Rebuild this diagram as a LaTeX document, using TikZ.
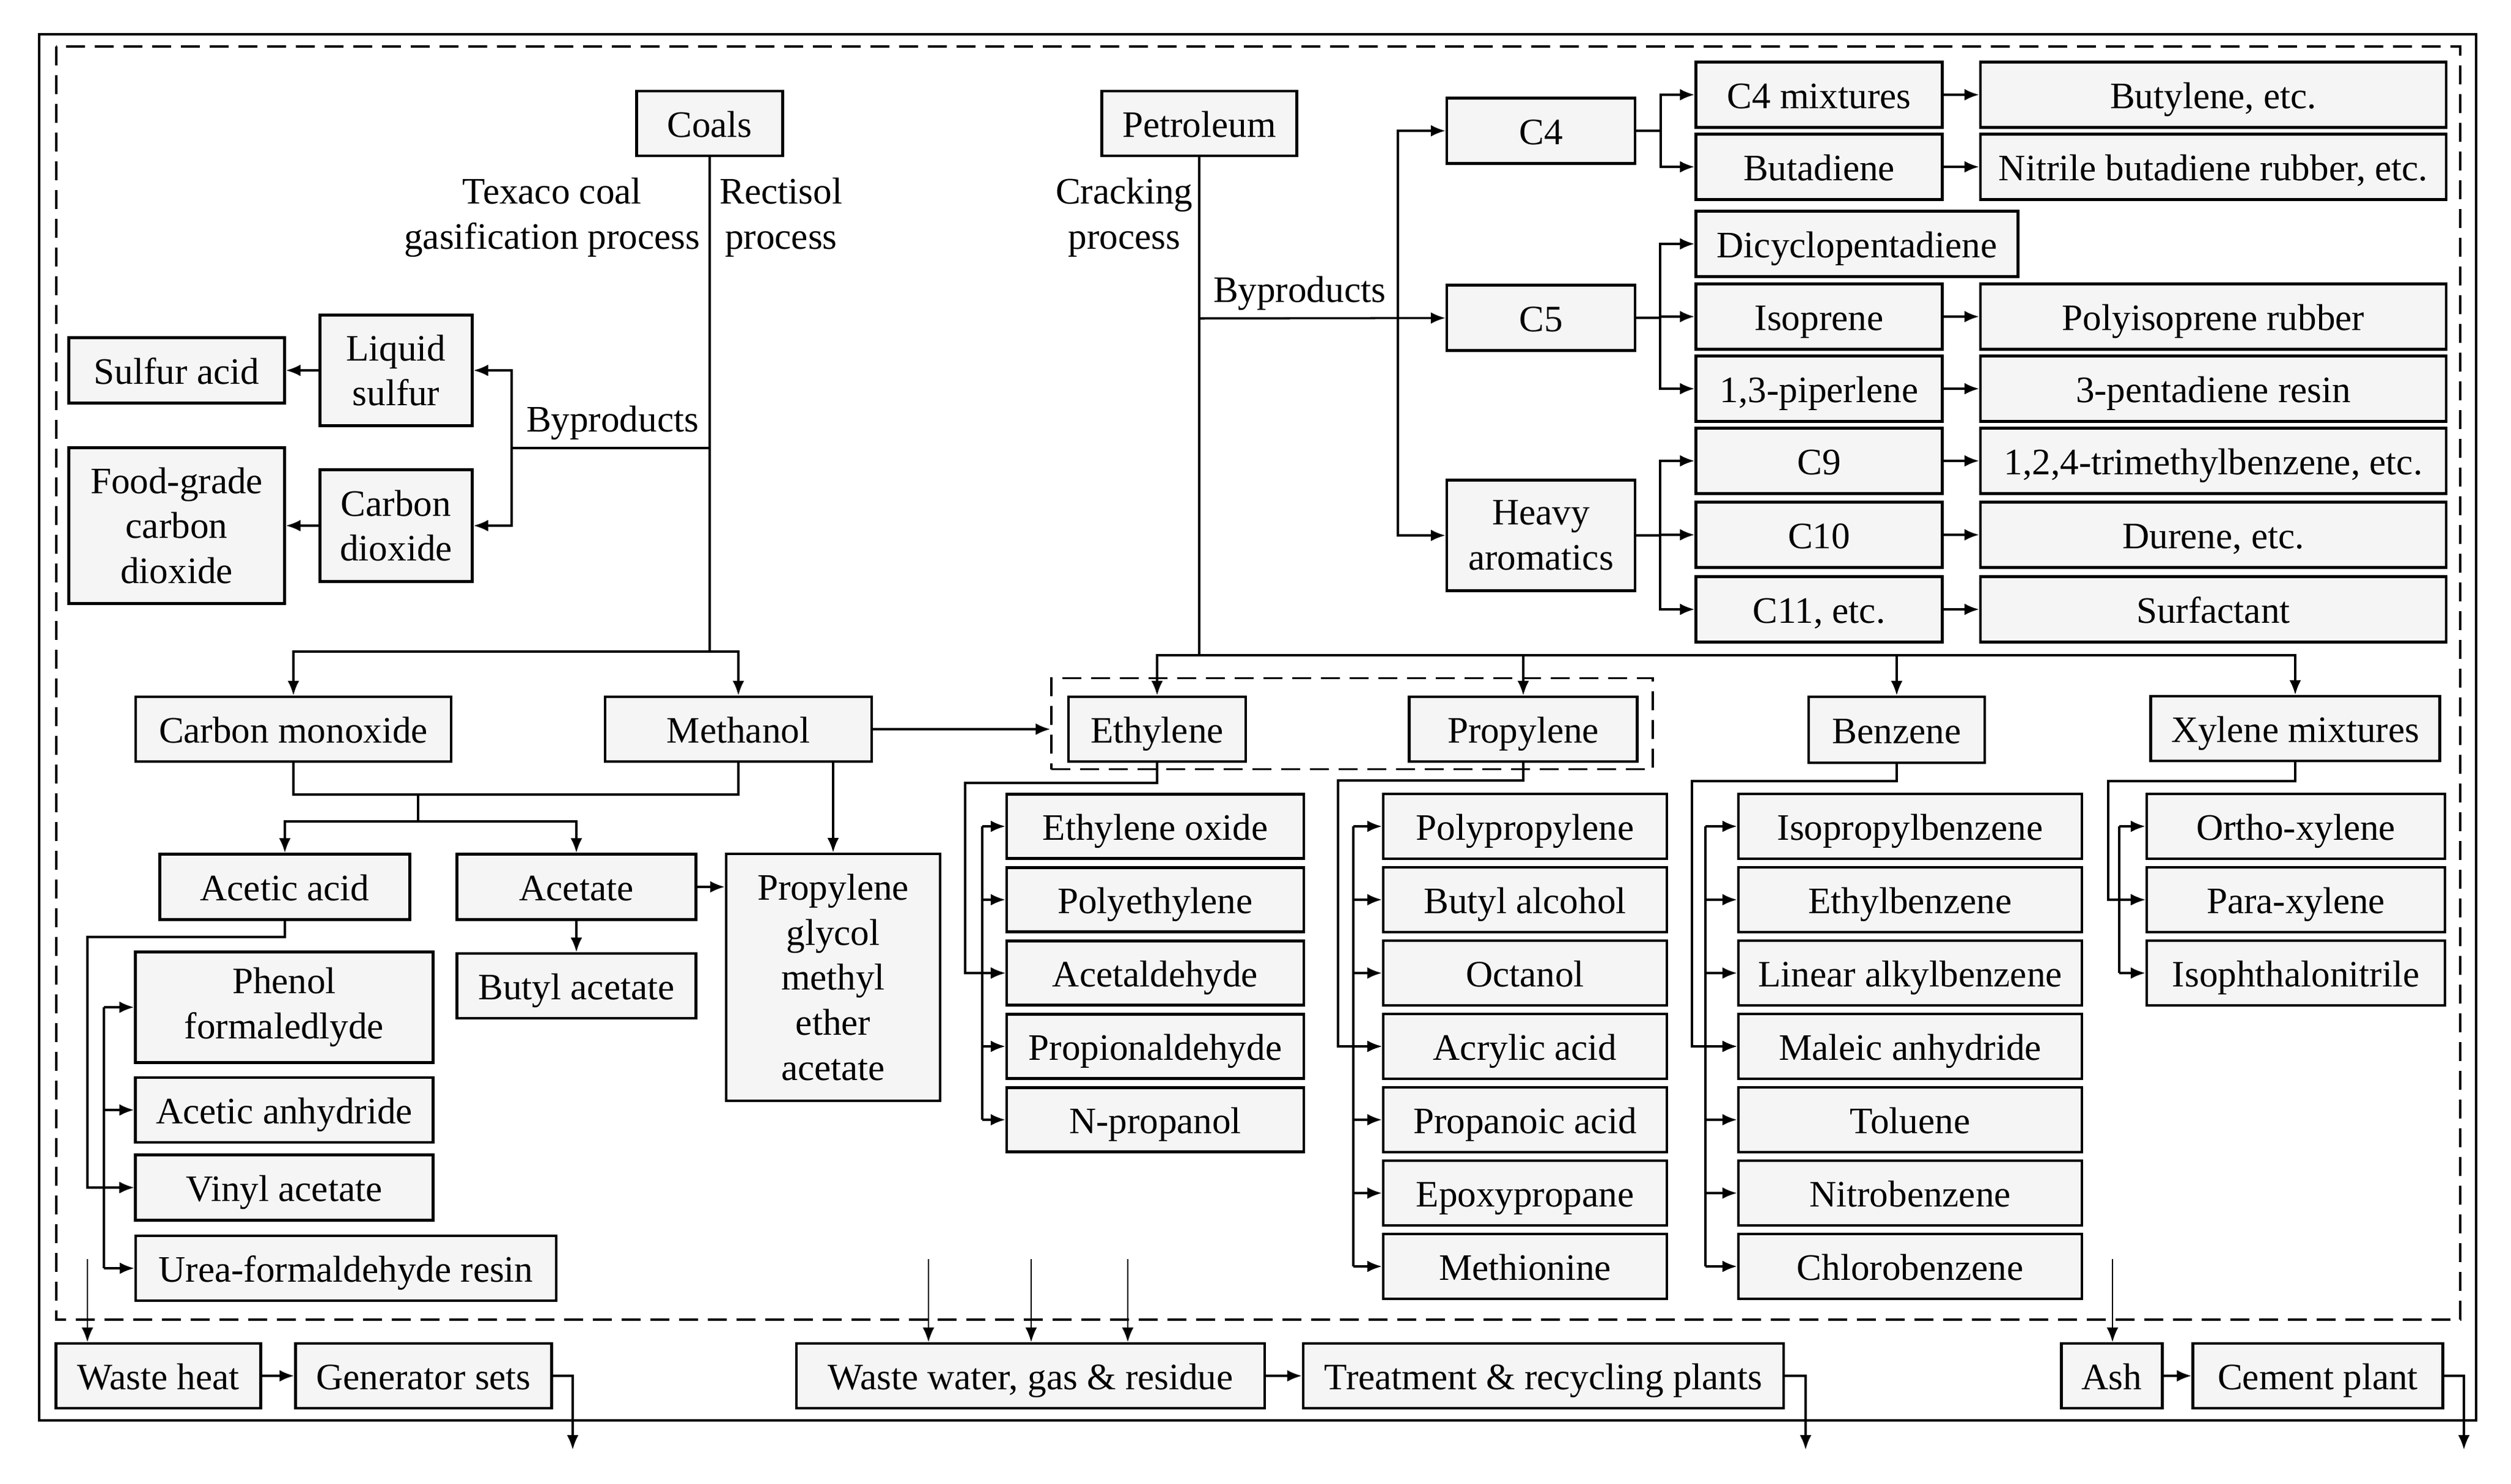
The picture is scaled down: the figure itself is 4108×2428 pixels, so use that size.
\documentclass[tikz,border=0pt]{standalone}
\usepackage{fontspec}
\setmainfont{Liberation Serif}
\usetikzlibrary{arrows.meta,positioning,calc}
\definecolor{boxfill}{RGB}{245,245,245}

\begin{document}
\begin{tikzpicture}[x=0.1mm, y=-0.1mm, >={Latex[length=2.4mm,width=1.9mm]},
    every node/.style={font=\fontsize{17.4}{21}\selectfont},
    box/.style={draw, fill=boxfill, line width=1.2pt, inner sep=0pt, align=center},
    sbox/.style={box, text height=12.6pt, text depth=0pt},
    wh/.style 2 args={minimum width=#1mm, minimum height=#2mm},
    lbl/.style={inner sep=0pt, align=center},
    link/.style={line width=1pt},
    feed/.style={line width=0.7pt},
    frame/.style={line width=1.3pt},
    zone/.style={line width=0.9pt, dash pattern=on 3.1mm off 1.6mm}]
    \useasboundingbox (0,0) rectangle (4108,2428);
    \draw[frame] (64,56) rectangle (4051,2324);
    \draw[zone] (92,76) rectangle (4025,2159);

    \node[sbox, wh={23.9}{10.6}] (coals) at (1161,202) {Coals};
    \node[sbox, wh={31.9}{10.6}] (petro) at (1962,202) {Petroleum};
    \node[lbl, anchor=east] (texaco) at (1146,356) {Texaco coal\\gasification process};
    \node[lbl, anchor=west] (rectisol) at (1177,356) {Rectisol\\process};
    \node[lbl, anchor=east] (cracking) at (1952,356) {Cracking\\process};

    \node[box, wh={24.9}{18.1}] (liqs) at (648,606) {Liquid\\sulfur};
    \node[sbox, wh={35.3}{10.7}] (sacid) at (289,606) {Sulfur acid};
    \node[box, wh={24.9}{18.3}] (cdiox) at (648,860) {Carbon\\dioxide};
    \node[box, wh={35.3}{25.5}] (foodco) at (289,860) {Food-grade\\carbon\\dioxide};

    \node[sbox, wh={30.8}{10.7}] (c4) at (2521,214) {C4};
    \node[sbox, wh={30.8}{10.7}] (c5) at (2521,520) {C5};
    \node[box, wh={30.8}{18.1}] (heavy) at (2521,876) {Heavy\\aromatics};
    \node[sbox, wh={52.7}{10.7}] (dcpd) at (3038,399) {Dicyclopentadiene};
    \foreach \nm/\y/\a/\b in {c4mix/155/{C4 mixtures}/{Butylene, etc.},
        butad/273/{Butadiene}/{Nitrile butadiene rubber, etc.},
        isop/518/{Isoprene}/{Polyisoprene rubber},
        piper/636/{1,3-piperlene}/{3-pentadiene resin},
        c9/754/{C9}/{1,2,4-trimethylbenzene, etc.},
        c10/875/{C10}/{Durene, etc.},
        c11/997/{C11, etc.}/{Surfactant}} {
      \node[sbox, wh={40.3}{10.7}] (\nm) at (2976,\y) {\a};
      \node[sbox, wh={76.2}{10.7}] (\nm-out) at (3621,\y) {\b};
      \draw[link,->] (\nm) -- (\nm-out);
    }

    \node[sbox, wh={51.6}{10.6}] (comono) at (480,1193) {Carbon monoxide};
    \node[sbox, wh={43.6}{10.6}] (meth) at (1208,1193) {Methanol};
    \node[sbox, wh={40.9}{10.7}] (aacid) at (466,1451) {Acetic acid};
    \node[sbox, wh={39.1}{10.7}] (acet) at (943,1451) {Acetate};
    \node[box, wh={35.0}{40.4}] (pgmea) at (1363,1599) {Propylene\\glycol\\methyl\\ether\\acetate};
    \node[sbox, wh={39.1}{10.6}] (bacet) at (943,1613) {Butyl acetate};
    \node[box, wh={48.7}{18.1}] (phenol) at (465,1648) {Phenol\\formaledlyde};
    \node[sbox, wh={48.7}{10.6}] (anhyd) at (465,1816) {Acetic anhydride};
    \node[sbox, wh={48.7}{10.7}] (vinyl) at (465,1943) {Vinyl acetate};
    \node[sbox, wh={68.8}{10.6}] (urea) at (566,2075) {Urea-formaldehyde resin};

    \node[draw, zone, wh={98.4}{14.9}] (olef) at (2212,1184) {};
    \node[sbox, wh={29.0}{10.6}] (eth) at (1893,1193) {Ethylene};
    \node[sbox, wh={37.3}{10.6}] (prop) at (2492,1193) {Propylene};
    \node[sbox, wh={28.8}{10.8}] (benz) at (3103,1194) {Benzene};
    \node[sbox, wh={47.3}{10.6}] (xyl) at (3755,1192) {Xylene mixtures};
    \foreach \t [count=\i] in {Ethylene oxide, Polyethylene, Acetaldehyde, Propionaldehyde, N-propanol}
      \node[sbox, wh={48.6}{10.5}] (eth\i) at (1890,1232+120*\i) {\t};
    \foreach \t [count=\i] in {Polypropylene, Butyl alcohol, Octanol, Acrylic acid, Propanoic acid, Epoxypropane, Methionine}
      \node[sbox, wh={46.4}{10.6}] (prop\i) at (2495,1232+120*\i) {\t};
    \foreach \t [count=\i] in {Isopropylbenzene, Ethylbenzene, Linear alkylbenzene, Maleic anhydride, Toluene, Nitrobenzene, Chlorobenzene}
      \node[sbox, wh={56.2}{10.6}] (benz\i) at (3125,1232+120*\i) {\t};
    \foreach \t [count=\i] in {Ortho-xylene, Para-xylene, Isophthalonitrile}
      \node[sbox, wh={48.8}{10.6}] (xyl\i) at (3756,1232+120*\i) {\t};

    \node[sbox, wh={33.5}{10.6}] (wheat) at (259,2251) {Waste heat};
    \node[sbox, wh={41.9}{10.6}] (gens) at (693,2251) {Generator sets};
    \node[sbox, wh={76.6}{10.6}] (wwgr) at (1686,2251) {Waste water, gas \& residue};
    \node[sbox, wh={78.6}{10.6}] (treat) at (2525,2251) {Treatment \& recycling plants};
    \node[sbox, wh={16.5}{10.6}] (ash) at (3455,2251) {Ash};
    \node[sbox, wh={40.9}{10.6}] (cement) at (3792,2251) {Cement plant};

    \coordinate (ctrunk) at (1161,1066);
    \coordinate (cby) at (1161,733);
    \coordinate (cbr) at (837,733);
    \draw[link] (coals) -- (ctrunk);
    \draw[link] (cby) -- (cbr);
    \node[lbl, anchor=south] (cbylbl) at (1002,720) {Byproducts};
    \draw[link,->] (cbr) |- (liqs);
    \draw[link,->] (cbr) |- (cdiox);
    \draw[link,->] (liqs) -- (sacid);
    \draw[link,->] (cdiox) -- (foodco);
    \draw[link,->] (ctrunk) -| (comono);
    \draw[link,->] (ctrunk) -| (meth);

    \coordinate (ptrunk) at (1962,1072);
    \coordinate (pby) at (1962,521);
    \coordinate (pbr) at (2287,521);
    \draw[link] (petro) -- (ptrunk);
    \draw[link,->] (pby) -- (c5);
    \node[lbl, anchor=south] (pbylbl) at (2126,508) {Byproducts};
    \draw[link,->] (pbr) |- (c4);
    \draw[link,->] (pbr) |- (heavy);
    \coordinate (c4j) at (2717,214);
    \coordinate (c5j) at (2716,520);
    \coordinate (hvj) at (2716,876);
    \draw[link] (c4) -- (c4j);
    \draw[link] (c5) -- (c5j);
    \draw[link] (heavy) -- (hvj);
    \foreach \a/\b in {c4j/c4mix, c4j/butad, c5j/dcpd, c5j/isop, c5j/piper, hvj/c9, hvj/c10, hvj/c11}
      \draw[link,->] (\a) |- (\b);
    \foreach \t in {eth, prop, benz, xyl}
      \draw[link,->] (ptrunk) -| (\t);

    \coordinate (cmj) at (684,1300);
    \coordinate (aj) at (684,1344);
    \draw[link] (comono) |- (cmj) -| (meth);
    \draw[link] (cmj) -- (aj);
    \draw[link,->] (aj) -| (aacid);
    \draw[link,->] (aj) -| (acet);
    \draw[link,->] (meth.south -| pgmea) -- (pgmea);
    \draw[link,->] (acet) -- (pgmea.west |- acet);
    \draw[link,->] (acet) -- (bacet);
    \draw[link,->] (meth) -- (meth -| olef.west);

    \coordinate (aaj) at (143,1533);
    \coordinate (abr) at (170,0);
    \draw[link,->] (aacid) |- (aaj) |- (vinyl);
    \draw[link] (abr |- phenol) -- (abr |- urea);
    \foreach \t in {phenol, anhyd, vinyl, urea}
      \draw[link,->] (abr |- \t) -- (\t);

    \coordinate (efd) at (1579,1281);
    \coordinate (ebr) at (1607,0);
    \draw[link,->] (eth) |- (efd) |- (eth3);
    \draw[link] (ebr |- eth1) -- (ebr |- eth5);
    \foreach \i in {1,...,5}
      \draw[link,->] (ebr |- eth\i) -- (eth\i);

    \coordinate (pfd) at (2189,1277);
    \coordinate (pbr2) at (2214,0);
    \draw[link,->] (prop) |- (pfd) |- (prop4);
    \draw[link] (pbr2 |- prop1) -- (pbr2 |- prop7);
    \foreach \i in {1,...,7}
      \draw[link,->] (pbr2 |- prop\i) -- (prop\i);

    \coordinate (bfd) at (2768,1278);
    \coordinate (bbr) at (2790,0);
    \draw[link,->] (benz) |- (bfd) |- (benz4);
    \draw[link] (bbr |- benz1) -- (bbr |- benz7);
    \foreach \i in {1,...,7}
      \draw[link,->] (bbr |- benz\i) -- (benz\i);

    \coordinate (xfd) at (3449,1278);
    \coordinate (xbr) at (3467,0);
    \draw[link,->] (xyl) |- (xfd) |- (xyl2);
    \draw[link] (xbr |- xyl1) -- (xbr |- xyl3);
    \foreach \i in {1,...,3}
      \draw[link,->] (xbr |- xyl\i) -- (xyl\i);

    \coordinate (wh0) at (143,2060);
    \coordinate (ash0) at (3456,2060);
    \draw[feed,->] (wh0) -- (wh0 |- wheat.north);
    \draw[feed,->] (ash0) -- (ash0 |- ash.north);
    \foreach \x [count=\i] in {1519,1687,1845} {
      \coordinate (ww\i) at (\x,2060);
      \draw[feed,->] (ww\i) -- (ww\i |- wwgr.north);
    }
    \draw[link,->] (wheat) -- (gens);
    \draw[link,->] (wwgr) -- (treat);
    \draw[link,->] (ash) -- (cement);
    \coordinate (genout) at (937,2372);
    \coordinate (treatout) at (2954,2372);
    \coordinate (cemout) at (4031,2372);
    \draw[link,->] (gens) -| (genout);
    \draw[link,->] (treat) -| (treatout);
    \draw[link,->] (cement) -| (cemout);
\end{tikzpicture}
\end{document}
